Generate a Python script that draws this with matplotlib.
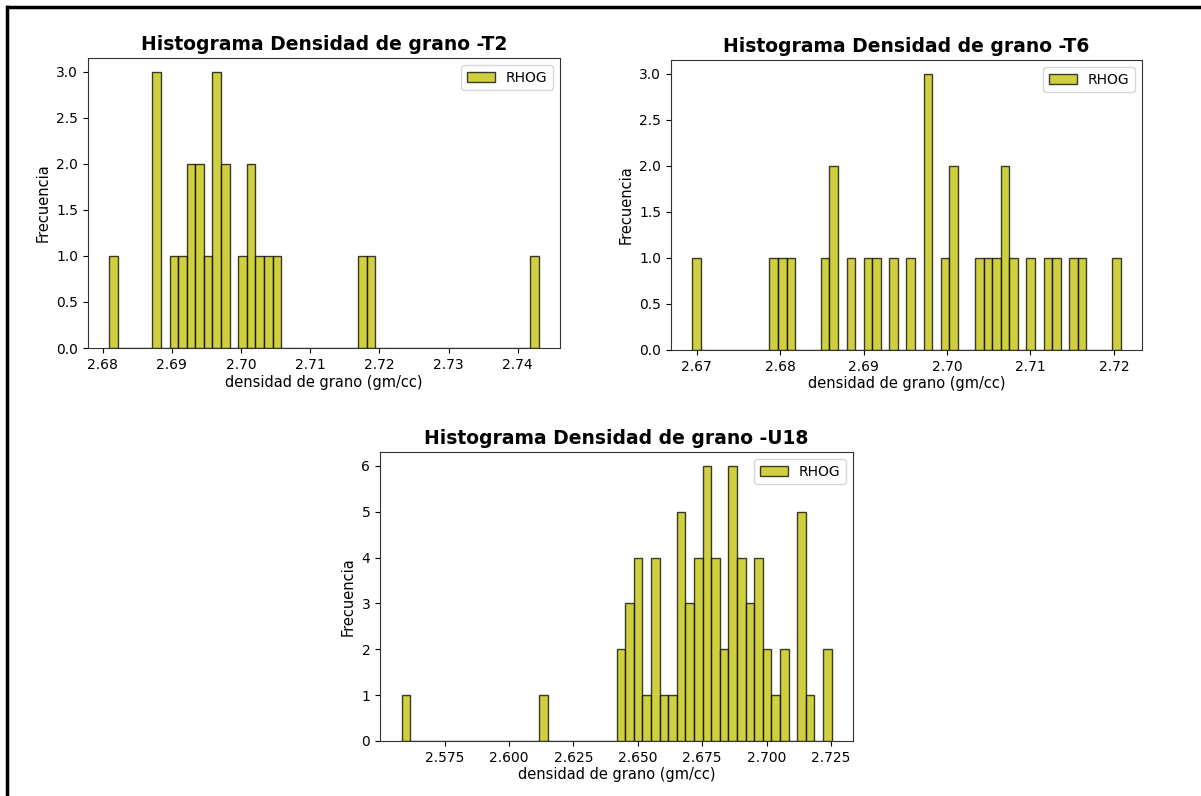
import numpy as np
import matplotlib
matplotlib.use("Agg")
import matplotlib.pyplot as plt
from matplotlib.lines import Line2D

# bin counts (50 bins each), only non-empty bins listed
t2_range = (2.681, 2.743)
t2_bins = [0, 5, 7, 8, 9, 10, 11, 12, 13, 15, 16, 17, 18, 19, 29, 30, 49]
t2_counts = [1, 3, 1, 1, 2, 2, 1, 3, 2, 1, 2, 1, 1, 1, 1, 1, 1]

t6_range = (2.6695, 2.7208)
t6_bins = [0, 9, 10, 11, 15, 16, 18, 20, 21, 23, 25, 27, 29, 30, 33, 34, 35,
           36, 37, 39, 41, 42, 44, 45, 49]
t6_counts = [1, 1, 1, 1, 1, 2, 1, 1, 1, 1, 1, 3, 1, 2, 1, 1, 1,
             2, 1, 1, 1, 1, 1, 1, 1]

u18_range = (2.5583, 2.7252)
u18_bins = [0, 16, 25, 26, 27, 28, 29, 30, 31, 32, 33, 34, 35, 36, 37, 38, 39,
            40, 41, 42, 43, 44, 46, 47, 49]
u18_counts = [1, 1, 2, 3, 4, 1, 4, 1, 1, 5, 3, 4, 6, 4, 2, 6, 4,
              3, 4, 2, 1, 2, 5, 1, 2]

titles = ["Histograma Densidad de grano -T2",
          "Histograma Densidad de grano -T6",
          "Histograma Densidad de grano -U18"]
nbins = 50

fig = plt.figure(figsize=(12.01, 7.96), dpi=100)
W, H = 1201, 796
boxes = [(88, 58, 560, 348), (671, 60, 1142, 350), (380, 452, 853, 741)]


def draw(ax, rng, bins, counts, title, yticks=None):
    edges = np.linspace(rng[0], rng[1], nbins + 1)
    centers = (edges[:-1] + edges[1:]) / 2
    ax.hist(centers[bins], bins=edges, weights=counts, color='y', alpha=0.75,
            edgecolor='black', label='RHOG')
    ax.set_title(title, fontsize=13.5, fontweight='bold', pad=6)
    ax.set_xlabel('densidad de grano (gm/cc)', fontsize=10.5, labelpad=2)
    ax.set_ylabel('Frecuencia', fontsize=10.5)
    ax.tick_params(labelsize=10)
    ax.legend(loc='upper right', fontsize=10)
    for s in ax.spines.values():
        s.set_color('#333333')
    if yticks is not None:
        ax.set_yticks(yticks)


axes = []
for (l, t, r, b) in boxes:
    axes.append(fig.add_axes([l / W, 1 - b / H, (r - l) / W, (b - t) / H]))

draw(axes[0], t2_range, t2_bins, t2_counts, titles[0])
draw(axes[1], t6_range, t6_bins, t6_counts, titles[1])
draw(axes[2], u18_range, u18_bins, u18_counts, titles[2], yticks=range(0, 7))

axes[0].set_xticks([2.68, 2.69, 2.70, 2.71, 2.72, 2.73, 2.74])
axes[1].set_xticks([2.67, 2.68, 2.69, 2.70, 2.71, 2.72])
axes[2].set_xticks([2.575, 2.600, 2.625, 2.650, 2.675, 2.700, 2.725])

# black frame (top and left) of the screenshot
fig.add_artist(Line2D([8 / W, 1], [1 - 7 / H, 1 - 7 / H], color='black', lw=2.5))
fig.add_artist(Line2D([7 / W, 7 / W], [0, 1 - 7 / H], color='black', lw=2.5))

fig.savefig('out.png', dpi=100)
